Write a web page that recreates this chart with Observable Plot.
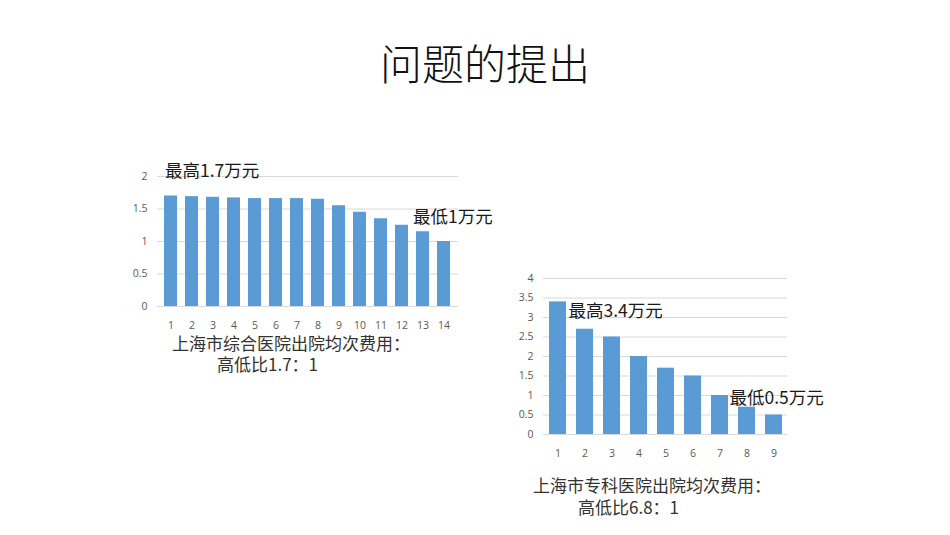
<!DOCTYPE html>
<html>
<head>
<meta charset="utf-8">
<script src="https://cdn.jsdelivr.net/npm/d3@7"></script>
<script src="https://cdn.jsdelivr.net/npm/@observablehq/plot@0.6"></script>
<style>
  body { margin: 0; background: #fff; }
  #page { position: relative; width: 950px; height: 535px; overflow: hidden; font-family: "Noto Sans CJK SC", sans-serif; }
  .abs { position: absolute; white-space: nowrap; }
  .title { font-size: 42px; font-weight: 300; color: #111; left: 0; width: 970px; text-align: center; top: 36px; line-height: 52px; }
  .cap { font-size: 17px; color: #333; line-height: 17px; }
</style>
</head>
<body>
<div id="page">
  <div class="abs title">问题的提出</div>
  <div id="c1" class="abs" style="left:100px; top:150px;"></div>
  <div id="c2" class="abs" style="left:490px; top:260px;"></div>
  <div class="abs cap" style="left:172px; top:334px;">上海市综合医院出院均次费用：</div>
  <div class="abs cap" style="left:217px; top:355px;">高低比1.7：1</div>
  <div class="abs cap" style="left:533px; top:476px;">上海市专科医院出院均次费用：</div>
  <div class="abs cap" style="left:578px; top:498px;">高低比6.8：1</div>
</div>
<script>
// Chart 1: 上海市综合医院 (万元)
const generalHospitals = ["1","2","3","4","5","6","7","8","9","10","11","12","13","14"];
const generalCosts = [1.70, 1.69, 1.68, 1.67, 1.66, 1.66, 1.66, 1.65, 1.55, 1.45, 1.35, 1.25, 1.15, 1.00];
const generalTicks = [0, 0.5, 1, 1.5, 2];
const generalMaxLabel = "最高1.7万元";
const generalMinLabel = "最低1万元";

// Chart 2: 上海市专科医院 (万元)
const specialHospitals = ["1","2","3","4","5","6","7","8","9"];
const specialCosts = [3.4, 2.7, 2.5, 2.0, 1.7, 1.5, 1.0, 0.7, 0.5];
const specialTicks = [0, 0.5, 1, 1.5, 2, 2.5, 3, 3.5, 4];
const specialMaxLabel = "最高3.4万元";
const specialMinLabel = "最低0.5万元";

const barColor = "#5b9bd5";
const gridColor = "#d9d9d9";
const tickColor = "#595959";
const annColor = "#1a1a1a";

function makeChart(cats, vals, ticks, maxLabel, minLabel, opt) {
  const data = cats.map((c, i) => ({cat: c, v: vals[i]}));
  const first = data[0], last = data[data.length - 1];
  return Plot.plot({
    width: opt.width, height: opt.height,
    marginLeft: opt.ml, marginRight: opt.mr, marginTop: opt.mt, marginBottom: opt.mb,
    style: {fontFamily: "'Open Sans', 'Liberation Sans', sans-serif", fontSize: "10.5px", color: tickColor, background: "transparent", overflow: "visible"},
    x: {domain: cats, paddingInner: 0.38, paddingOuter: opt.outer, label: null, tickSize: 0, tickPadding: opt.xpad},
    y: {domain: [0, ticks[ticks.length - 1]], ticks: ticks, label: null, tickSize: 0, tickPadding: 10, tickFormat: d => String(d)},
    marks: [
      Plot.ruleY(ticks, {stroke: gridColor, strokeWidth: 1}),
      Plot.barY(data, {x: "cat", y: "v", fill: barColor}),
      Plot.text([first], {x: "cat", y: "v", text: () => maxLabel, textAnchor: "start", dx: opt.maxDx, dy: opt.maxDy, fontSize: 17.5, fill: annColor, fontFamily: "'Noto Sans CJK SC', sans-serif"}),
      Plot.text([last], {x: "cat", y: "v", text: () => minLabel, textAnchor: "start", dx: opt.minDx, dy: opt.minDy, fontSize: 17.5, fill: annColor, fontFamily: "'Noto Sans CJK SC', sans-serif"})
    ]
  });
}

document.getElementById("c1").appendChild(makeChart(generalHospitals, generalCosts, generalTicks, generalMaxLabel, generalMinLabel,
  {width: 410, height: 200, ml: 57, mr: 52, mt: 26, mb: 44, outer: 0.22, xpad: 15, maxDx: -6, maxDy: -25, minDx: -31, minDy: -24}));
document.getElementById("c2").appendChild(makeChart(specialHospitals, specialCosts, specialTicks, specialMaxLabel, specialMinLabel,
  {width: 350, height: 210, ml: 53, mr: 53, mt: 18, mb: 36, outer: 0.2, xpad: 15, maxDx: 10.5, maxDy: 9, minDx: -44.5, minDy: -16.5}));
</script>
</body>
</html>
